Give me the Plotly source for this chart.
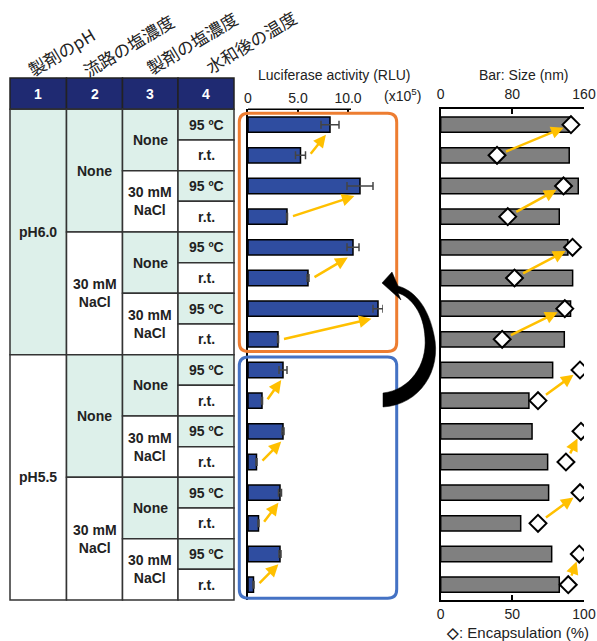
import plotly.graph_objects as go

W, H = 597, 641

# ---------------- data ----------------
col_headers = ["1", "2", "3", "4"]
col_titles = ["製剤のpH", "流路の塩濃度", "製剤の塩濃度", "水和後の温度"]
ph_labels = ["pH6.0", "pH5.5"]
channel_salt = ["None", "30 mM<br>NaCl", "None", "30 mM<br>NaCl"]
form_salt = ["None", "30 mM<br>NaCl"] * 4
temps = ["95 ºC", "r.t."] * 8

# Luciferase activity (x10^5 RLU)
luciferase = [8.2, 5.25, 11.2, 3.9, 10.5, 6.0, 13.0, 3.0,
              3.5, 1.4, 3.5, 0.85, 3.2, 1.05, 3.2, 0.55]
luc_err = [0.9, 0.5, 1.3, 0.05, 0.6, 0.1, 0.5, 0.05,
           0.4, 0.05, 0.1, 0.05, 0.15, 0.05, 0.1, 0.05]
# Size (nm)
size_nm = [145, 143.5, 153.6, 132.4, 142, 147.3, 145, 138,
           125, 98.5, 102, 119.4, 120.5, 89.3, 123.9, 132.4]
# Encapsulation (%)
encaps = [90.9, 39.3, 85.7, 46.8, 92, 51.5, 86.6, 42.9,
          97.2, 67.9, 97.9, 87.4, 97.2, 67.9, 96.7, 89]

luc_ticks = [0, 5, 10]
luc_ticktext = ["0", "5.0", "10.0"]
size_ticks = [0, 80, 160]
enc_ticks = [0, 50, 100]

rows = list(range(len(luciferase)))

# ---------------- style ----------------
NAVY = "#1F2A72"
MINT = "#DDF0EA"
BLUE_BAR = "#2F4DA0"
GREY_BAR = "#808080"
GOLD = "#FFC000"
ORANGE = "#ED7D31"
BOXBLUE = "#4472C4"
TXT = "#222222"
FONT = "Liberation Sans, Arial, sans-serif"
JFONT = "Noto Sans CJK JP, sans-serif"

TABLE_X = [10, 66.5, 122.5, 178, 234]
HEAD_TOP = 78
ROW_TOP = 109.3
ROW_H = 30.67
ROW_BOT = ROW_TOP + 16 * ROW_H


def X(p):
    return p / W


def Y(p):
    return 1 - p / H


def label(x, y, text, size=14, color=TXT, family=FONT, **kw):
    d = dict(xref="paper", yref="paper", x=X(x), y=Y(y), text=text,
             showarrow=False, xanchor="center", yanchor="middle",
             font=dict(size=size, color=color, family=family))
    d.update(kw)
    return d


shapes = []
annotations = []

# ---------------- table ----------------
for c, lab in enumerate(col_headers):
    shapes.append(dict(type="rect", xref="paper", yref="paper",
                       x0=X(TABLE_X[c]), x1=X(TABLE_X[c + 1]),
                       y0=Y(ROW_TOP), y1=Y(HEAD_TOP),
                       fillcolor=NAVY, line=dict(color="#222", width=1.5)))
    annotations.append(label((TABLE_X[c] + TABLE_X[c + 1]) / 2,
                             (HEAD_TOP + ROW_TOP) / 2,
                             "<b>%s</b>" % lab, color="white"))

columns = [ph_labels, channel_salt, form_salt, temps]
for c, labels in enumerate(columns):
    span = 16 // len(labels)
    for g, lab in enumerate(labels):
        y0 = ROW_TOP + g * span * ROW_H
        y1 = y0 + span * ROW_H
        shapes.append(dict(type="rect", xref="paper", yref="paper",
                           x0=X(TABLE_X[c]), x1=X(TABLE_X[c + 1]),
                           y0=Y(y1), y1=Y(y0),
                           fillcolor=MINT if g % 2 == 0 else "white",
                           line=dict(color="#333", width=1.5)))
        annotations.append(label((TABLE_X[c] + TABLE_X[c + 1]) / 2,
                                 (y0 + y1) / 2, "<b>%s</b>" % lab))

# rotated column titles
title_pos = [(61, 51), (128, 45), (192, 43), (251, 42)]
for t, (tx, ty) in zip(col_titles, title_pos):
    annotations.append(label(tx, ty, t, size=17, family=JFONT, textangle=-31))

# ---------------- figure ----------------
fig = go.Figure()
fig.add_trace(go.Bar(
    x=luciferase, y=rows, orientation="h", width=0.5,
    marker=dict(color=BLUE_BAR, line=dict(color="black", width=1.5)),
    error_x=dict(type="data", array=luc_err, color="#444", thickness=1.5, width=4),
    xaxis="x", yaxis="y", showlegend=False))
fig.add_trace(go.Bar(
    x=size_nm, y=rows, orientation="h", width=0.5,
    marker=dict(color=GREY_BAR, line=dict(color="black", width=1.5)),
    xaxis="x2", yaxis="y2", showlegend=False))
fig.add_trace(go.Scatter(
    x=encaps, y=rows, mode="markers",
    marker=dict(symbol="diamond", size=13, color="white",
                line=dict(color="black", width=2)),
    xaxis="x3", yaxis="y2", showlegend=False))

# yellow arrows
for hi in range(0, 16, 2):
    rt = hi + 1
    annotations.append(dict(
        x=luciferase[hi] * 0.95, y=hi + 0.33,
        ax=luciferase[rt] + luc_err[rt] + 0.4, ay=rt,
        xref="x", yref="y", axref="x", ayref="y", text="",
        showarrow=True, arrowhead=2, arrowsize=1.0, arrowwidth=2.5,
        arrowcolor=GOLD))
    annotations.append(dict(
        x=encaps[hi], y=hi, ax=encaps[rt], ay=rt,
        xref="x3", yref="y2", axref="x3", ayref="y2", text="",
        showarrow=True, arrowhead=2, arrowsize=1.0, arrowwidth=2.5,
        arrowcolor=GOLD, standoff=8, startstandoff=8))

# axis titles
annotations += [
    label(334, 75, "Luciferase activity (RLU)"),
    label(402, 95, "(x10<sup>5</sup>)"),
    label(523, 75, "Bar: Size (nm)"),
    label(517, 632, "<b>◇</b>: Encapsulation (%)", size=15),
]

LUC_L, LUC_R = 248, 383
SZ_L, SZ_R = 440.7, 584
ydom = [Y(ROW_BOT), Y(ROW_TOP)]

# luciferase top axis line (short)
shapes.append(dict(type="line", xref="x", yref="paper", x0=0, x1=10.3,
                   y0=ydom[1], y1=ydom[1], line=dict(color="black", width=1.5)))


def rounded(x0, y0, x1, y1, r):
    return ("M {a},{b} L {c},{b} Q {d},{b} {d},{e} L {d},{f} Q {d},{g} {c},{g} "
            "L {a},{g} Q {h},{g} {h},{f} L {h},{e} Q {h},{b} {a},{b} Z").format(
        a=X(x0 + r), b=Y(y0), c=X(x1 - r), d=X(x1), e=Y(y0 + r), f=Y(y1 - r),
        g=Y(y1), h=X(x0))


shapes.append(dict(type="path", xref="paper", yref="paper",
                   path=rounded(239.3, 113.3, 396.7, 351.5, 9),
                   line=dict(color=ORANGE, width=3)))
shapes.append(dict(type="path", xref="paper", yref="paper",
                   path=rounded(239.3, 357, 396.7, 598.3, 9),
                   line=dict(color=BOXBLUE, width=3)))

# black curved arrow
pts = [("M", [(383, 407)]),
       ("C", [(420, 405), (442, 370), (434, 335)]),
       ("C", [(428, 305), (413, 290), (398, 286)]),
       ("L", [(392, 272)]),
       ("L", [(382, 283)]),
       ("L", [(401, 300)]),
       ("L", [(398, 293)]),
       ("C", [(411, 297), (424, 313), (425, 338)]),
       ("C", [(427, 365), (410, 390), (383, 393)])]
path = ""
for cmd, pl in pts:
    path += cmd + " " + " ".join("%f,%f" % (X(a), Y(b)) for a, b in pl) + " "
path += "Z"
shapes.append(dict(type="path", xref="paper", yref="paper", path=path,
                   fillcolor="black", line=dict(color="black", width=0.5)))

axis_common = dict(showgrid=False, zeroline=False, automargin=False,
                   tickfont=dict(size=14, color=TXT, family=FONT),
                   tickcolor="black", tickwidth=1.5, ticklen=5, ticks="inside",
                   linecolor="black", linewidth=1.5)

fig.update_layout(
    template="none",
    width=W, height=H,
    margin=dict(l=0, r=0, t=0, b=0),
    paper_bgcolor="white", plot_bgcolor="rgba(0,0,0,0)",
    font=dict(family=FONT, color=TXT),
    showlegend=False,
    xaxis=dict(domain=[X(LUC_L), X(LUC_R)], range=[0, 13.5], side="top",
               anchor="y", showline=False, tickvals=luc_ticks,
               ticktext=luc_ticktext, ticklabelstandoff=3, **axis_common),
    yaxis=dict(domain=ydom, range=[15.5, -0.5], anchor="x", showline=True,
               showticklabels=False, showgrid=False, zeroline=False,
               ticks="", linecolor="black", linewidth=1.5, automargin=False),
    xaxis2=dict(domain=[X(SZ_L), X(SZ_R)], range=[0, 160], side="top",
                anchor="y2", showline=True, tickvals=size_ticks,
                ticklabelstandoff=3, **axis_common),
    xaxis3=dict(range=[0, 100], side="bottom", overlaying="x2", anchor="y2",
                showline=True, tickvals=enc_ticks, ticklabelstandoff=0,
                **axis_common),
    yaxis2=dict(domain=ydom, range=[15.5, -0.5], anchor="x2", showline=True,
                showticklabels=False, showgrid=False, zeroline=False,
                ticks="", linecolor="black", linewidth=1.5, automargin=False),
    shapes=shapes,
    annotations=annotations,
)

fig.write_html("out.html", config={"displayModeBar": False},
               post_script="document.body.style.margin='0px';")
